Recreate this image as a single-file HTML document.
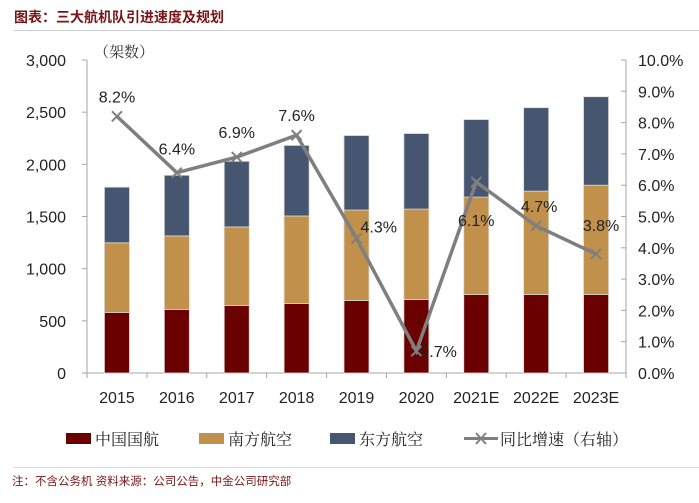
<!DOCTYPE html>
<html><head><meta charset="utf-8"><style>
body{margin:0;background:#fff;width:699px;height:498px;overflow:hidden;font-family:"Liberation Sans","Noto Sans CJK SC",sans-serif}
</style></head><body>
<svg width="699" height="498" id="c" xmlns="http://www.w3.org/2000/svg">
<text x="14" y="22" font-size="14" font-weight="bold" fill="#7a1416">图表：三大航机队引进速度及规划</text>
<line x1="14" y1="30.5" x2="699" y2="30.5" stroke="#d0d0d0"/>
<text x="94" y="57" font-size="15" fill="#333" style="font-family:'Noto Serif CJK SC',serif">（架数）</text>
<line x1="14" y1="467.5" x2="699" y2="467.5" stroke="#d8d8d8"/>
<text x="12" y="485" font-size="11.5" fill="#7a1416">注：不含公务机 资料来源：公司公告，中金公司研究部</text>
</svg>
<script>
const categories=["2015","2016","2017","2018","2019","2020","2021E","2022E","2023E"];
const airChina=[581,610,648,667,695,705,752,752,752];
const chinaSouthern=[667,704,752,838,867,866,934,991,1048];
const chinaEastern=[533,581,629,676,714,724,743,800,848];
const growth=[8.2,6.4,6.9,7.6,4.3,0.7,6.1,4.7,3.8];
const leftTicks=[0,500,1000,1500,2000,2500,3000];
const rightTicks=[0,1,2,3,4,5,6,7,8,9,10];
const labelDx=[0,0,0,0,18,20,0,3,5];
const labelDy=[-20,-24,-25,-20,-12,0,38,-20,-29];
const svg=document.getElementById('c');const NS="http://www.w3.org/2000/svg";
const X0=87,X1=626,Y0=373,Y1=60;
const bw=(X1-X0)/categories.length;
const yL=v=>Y0-(v/3000)*(Y0-Y1);
const yR=v=>Y0-(v/10)*(Y0-Y1);
const xc=i=>X0+bw*(i+0.5);
const serif="font-family:'Noto Serif CJK SC',serif";
function mk(t,a,txt){const e=document.createElementNS(NS,t);for(const k in a)e.setAttribute(k,a[k]);if(txt!==undefined)e.textContent=txt;svg.appendChild(e);return e;}
let e=mk('line',{x1:X0,y1:Y1,x2:X0,y2:Y0,stroke:'#a6a6a6'});


e=mk('line',{x1:X1,y1:Y1,x2:X1,y2:Y0,stroke:'#a6a6a6'});


e=mk('line',{x1:X0,y1:Y0,x2:X1,y2:Y0,stroke:'#a6a6a6'});


leftTicks.forEach(v=>{
 mk('line',{x1:X0-5,y1:yL(v),x2:X0,y2:yL(v),stroke:'#a6a6a6'});
 const t=mk('text',{x:66,y:yL(v)+6,'font-size':16,'text-anchor':'end',fill:'#222'},v.toLocaleString('en-US'));
 
 
});
rightTicks.forEach(v=>{
 mk('line',{x1:X1-5,y1:yR(v),x2:X1,y2:yR(v),stroke:'#a6a6a6'});
 const t=mk('text',{x:638,y:yR(v)+6,'font-size':16,fill:'#222'},v.toFixed(1)+'%');
 
 
});
for(let i=0;i<=categories.length;i++)mk('line',{x1:X0+bw*i,y1:Y0,x2:X0+bw*i,y2:Y0+5,stroke:'#a6a6a6'});
categories.forEach((c,i)=>{
 const t=mk('text',{x:xc(i),y:403,'font-size':16,'text-anchor':'middle',fill:'#222'},c);
 
 
 const w=25;let b=0;
 [[airChina,'#6b0000','bar-air-china'],[chinaSouthern,'#c1904b','bar-china-southern'],[chinaEastern,'#465670','bar-china-eastern']].forEach(([arr,col,nm])=>{
  const r=mk('rect',{x:xc(i)-w/2,y:yL(b+arr[i]),width:w,height:yL(b)-yL(b+arr[i]),fill:col,stroke:'#d9d9d0','stroke-width':0.8});
  
  
  b+=arr[i];
 });
});
const pts=growth.map((v,i)=>xc(i)+','+yR(v)).join(' ');
e=mk('polyline',{points:pts,fill:'none',stroke:'#7f7f7f','stroke-width':3.5});


growth.forEach((v,i)=>{
 const x=xc(i),y=yR(v),s=5;
 const g=mk('path',{d:`M${x-s},${y-s}L${x+s},${y+s}M${x-s},${y+s}L${x+s},${y-s}`,stroke:'#7f7f7f','stroke-width':2});
 
 
 const right=labelDx[i]>10;
 const t=mk('text',{x:right?x+4:x+labelDx[i],y:y+labelDy[i]+6,'font-size':16,'text-anchor':right?'start':'middle',fill:'#222'},v.toFixed(1)+'%');
 
 
});
const leg=[['#6b0000','中国国航',66],['#c1904b','南方航空',199],['#465670','东方航空',330]];
leg.forEach(([c,n,x])=>{
 const r=mk('rect',{x:x,y:433,width:25,height:11,fill:c});
 
 
 const t=mk('text',{x:x+29,y:445,'font-size':16,fill:'#222',style:serif},n);
 
 
});
mk('line',{x1:464,y1:438.5,x2:498,y2:438.5,stroke:'#7f7f7f','stroke-width':3});
mk('path',{d:'M476,433L486,444M476,444L486,433',stroke:'#7f7f7f','stroke-width':2});
e=mk('text',{x:500,y:445,'font-size':16,fill:'#222',style:serif},'同比增速（右轴）');


</script>
</body></html>
